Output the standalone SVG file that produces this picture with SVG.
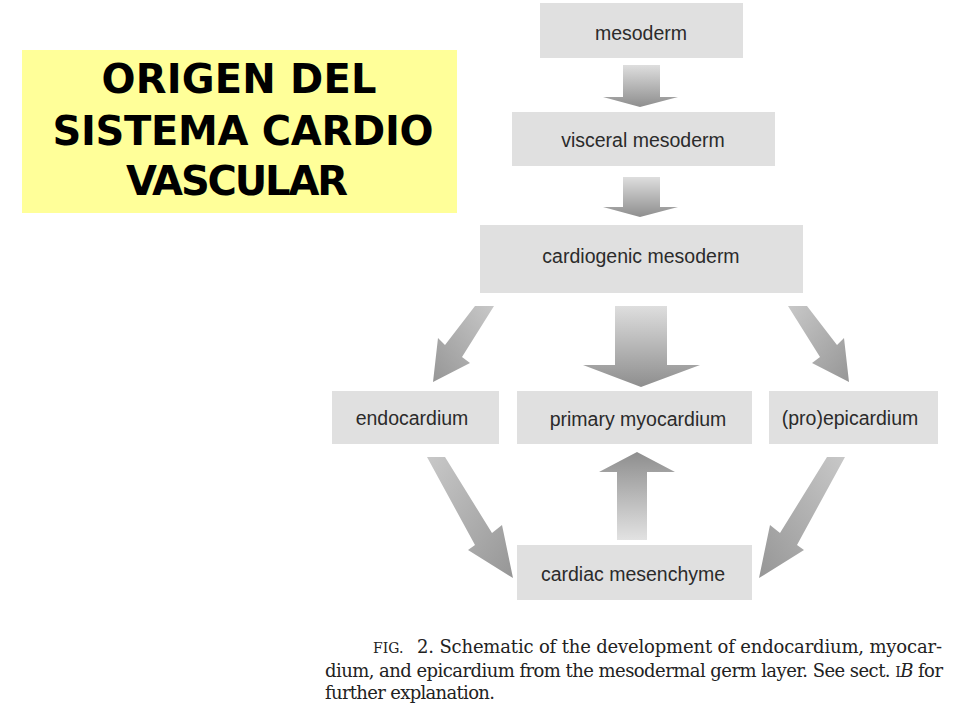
<svg xmlns="http://www.w3.org/2000/svg" width="960" height="720" viewBox="0 0 960 720">
<defs>
  <style>
    .box { fill: #e0e0e0; }
    .lbl { font-family: "Liberation Sans", Arial, sans-serif; font-size: 19.5px; fill: #2b2b2b; text-anchor: middle; }
    .title { font-family: "DejaVu Sans", sans-serif; font-weight: bold; font-size: 40px; fill: #000; text-anchor: middle; }
    .cap { font-family: "DejaVu Serif", "Liberation Serif", serif; font-size: 18px; fill: #222; }
    .fig { font-size: 14px; }
  </style>
  <linearGradient id="gDown" x1="0" y1="0" x2="0" y2="1">
    <stop offset="0" stop-color="#dedede"/>
    <stop offset="1" stop-color="#8e8e8e"/>
  </linearGradient>
  <linearGradient id="gUp" x1="0" y1="1" x2="0" y2="0">
    <stop offset="0" stop-color="#e2e2e2"/>
    <stop offset="1" stop-color="#8e8e8e"/>
  </linearGradient>
  <linearGradient id="gDL" x1="1" y1="0" x2="0" y2="1">
    <stop offset="0" stop-color="#c8c8c8"/>
    <stop offset="1" stop-color="#969696"/>
  </linearGradient>
  <linearGradient id="gDR" x1="0" y1="0" x2="1" y2="1">
    <stop offset="0" stop-color="#c8c8c8"/>
    <stop offset="1" stop-color="#969696"/>
  </linearGradient>
</defs>
<rect width="960" height="720" fill="#ffffff"/>

<g id="title">
  <rect x="22" y="50" width="435" height="163" fill="#ffff99"/>
  <text class="title" x="239" y="93" textLength="275">ORIGEN DEL</text>
  <text class="title" x="243" y="145" textLength="381">SISTEMA CARDIO</text>
  <text class="title" x="237" y="195" textLength="222">VASCULAR</text>
</g>

<g id="connectors">
  <polygon points="623,65 660,65 660,97 678,97 640,107 603,97 623,97" fill="url(#gDown)"/>
  <polygon points="623,177 660,177 660,207 678,207 640,217 603,207 623,207" fill="url(#gDown)"/>
  <polygon points="615,306 667,306 667,365 700,365 641,387 583,365 615,365" fill="url(#gDown)"/>
  <polygon points="475,306 494,306 462,357 470,363 433,382 438,338 445,345" fill="url(#gDL)"/>
  <polygon points="807,306 788,306 820,357 812,363 849,382 844,338 837,345" fill="url(#gDR)"/>
  <polygon points="617,540 647,540 647,472 675,472 637,452 599,472 617,472" fill="url(#gUp)"/>
  <polygon points="427,457 445,457 492,533 502,525 513,578 468,550 475,545" fill="url(#gDR)"/>
  <polygon points="845,457 827,457 780,533 770,525 759,578 804,550 797,545" fill="url(#gDL)"/>
</g>

<g id="n-mesoderm">
  <rect class="box" x="540" y="3" width="203" height="55"/>
  <text class="lbl" x="641" y="40">mesoderm</text>
</g>
<g id="n-visceral">
  <rect class="box" x="512" y="112" width="263" height="54"/>
  <text class="lbl" x="643" y="147">visceral mesoderm</text>
</g>
<g id="n-cardiogenic">
  <rect class="box" x="480" y="225" width="323" height="68"/>
  <text class="lbl" x="641" y="263">cardiogenic mesoderm</text>
</g>
<g id="n-endocardium">
  <rect class="box" x="332" y="391" width="167" height="53"/>
  <text class="lbl" x="412" y="425">endocardium</text>
</g>
<g id="n-myocardium">
  <rect class="box" x="517" y="391" width="235" height="53"/>
  <text class="lbl" x="638" y="426">primary myocardium</text>
</g>
<g id="n-epicardium">
  <rect class="box" x="769" y="391" width="169" height="53"/>
  <text class="lbl" x="850" y="425">(pro)epicardium</text>
</g>
<g id="n-mesenchyme">
  <rect class="box" x="517" y="545" width="235" height="55"/>
  <text class="lbl" x="633" y="581">cardiac mesenchyme</text>
</g>

<g id="caption">
  <text class="cap" x="373" y="653"><tspan class="fig">FIG.</tspan></text>
  <text class="cap" x="417" y="653" textLength="525">2. Schematic of the development of endocardium, myocar-</text>
  <text class="cap" x="325" y="677" textLength="618">dium, and epicardium from the mesodermal germ layer. See sect. <tspan class="fig">I</tspan><tspan font-style="italic">B</tspan> for</text>
  <text class="cap" x="325" y="699" textLength="170">further explanation.</text>
</g>
</svg>
